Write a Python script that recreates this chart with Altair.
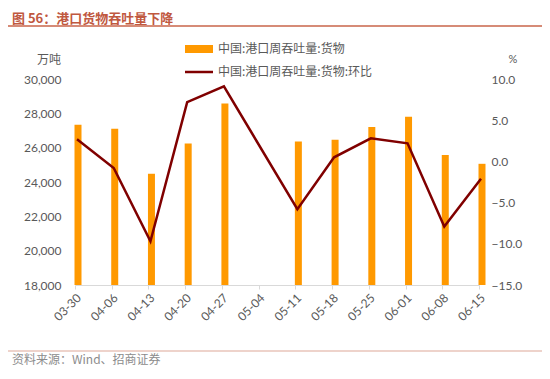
import altair as alt
import pandas as pd

dates = ["03-30", "04-06", "04-13", "04-20", "04-27", "05-04",
         "05-11", "05-18", "05-25", "06-01", "06-08", "06-15"]
throughput = [27330, 27100, 24480, 26240, 28580, None,
              26360, 26460, 27200, 27800, 25580, 25060]
mom = [2.7, -0.8, -9.7, 7.2, 9.1, None,
       -5.8, 0.5, 2.8, 2.2, -7.9, -2.1]

df = pd.DataFrame({"date": dates, "val": throughput, "mom": mom})
one = pd.DataFrame({"k": [0]})

LBL = "#595959"
FONT = "Noto Sans CJK SC"
NUMFONT = "Lato"

xenc = alt.X("date:N", sort=dates,
             scale=alt.Scale(type="point", domain=dates, padding=0),
             axis=alt.Axis(title=None, labelAngle=-45, labelColor=LBL, labelFont=NUMFONT,
                           labelFontSize=12, domainColor="#D9D9D9", tickColor="#D9D9D9",
                           tickSize=4, labelPadding=3, grid=False))

bars = alt.Chart(df).transform_filter("datum.val != null").mark_bar(
    color="#FF9900", size=7, xOffset=3).encode(
    x=xenc,
    y=alt.Y("val:Q", scale=alt.Scale(domain=[18000, 30000], zero=False, nice=False),
            axis=alt.Axis(title=None, values=list(range(18000, 30001, 2000)), format=",.0f",
                          domain=False, ticks=False, grid=False, labelColor=LBL,
                          labelFont=NUMFONT, labelFontSize=12, labelPadding=14)),
    y2=alt.datum(18000),
)

line = alt.Chart(df).transform_filter("datum.mom != null").mark_line(
    color="#800000", strokeWidth=2.5, xOffset=2).encode(
    x=xenc,
    y=alt.Y("mom:Q", scale=alt.Scale(domain=[-15, 10], nice=False, zero=False),
            axis=alt.Axis(title=None, orient="right", values=[-15, -10, -5, 0, 5, 10],
                          format=".1f", domain=False, ticks=False, grid=False,
                          labelColor=LBL, labelFont=NUMFONT, labelFontSize=12,
                          labelPadding=12)),
)

def txt(t, x, y, **kw):
    return alt.Chart(pd.DataFrame({"t": [t]})).mark_text(**kw).encode(
        text="t:N", x=alt.value(x), y=alt.value(y))

title = txt("图 56：港口货物吞吐量下降", -63, -60, align="left", baseline="middle",
            font=FONT, fontSize=13, fontWeight="bold", color="#C0583F")
unit_l = txt("万吨", -14, -19, align="right", baseline="middle", font=FONT,
             fontSize=12, color=LBL)
unit_r = txt("%", 438, -19, align="center", baseline="middle", font=NUMFONT,
             fontSize=11, color=LBL)
leg1 = txt("中国:港口周吞吐量:货物", 143, -30, align="left", baseline="middle",
           font=FONT, fontSize=12, color=LBL)
leg2 = txt("中国:港口周吞吐量:货物:环比", 143, -7, align="left", baseline="middle",
           font=FONT, fontSize=12, color=LBL)
source = txt("资料来源：Wind、招商证券", -63, 281, align="left", baseline="middle",
             font=FONT, fontSize=12, color="#8C8C8C")

leg_rect = alt.Chart(one).mark_rect(color="#FF9900").encode(
    x=alt.value(110), x2=alt.value(138), y=alt.value(-34), y2=alt.value(-26))
leg_line = alt.Chart(one).mark_rule(color="#800000", strokeWidth=2.5).encode(
    x=alt.value(110), x2=alt.value(138), y=alt.value(-7))
top_rule = alt.Chart(one).mark_rule(color="#C8654A", strokeWidth=1.5).encode(
    x=alt.value(-67), x2=alt.value(467), y=alt.value(-53))
bot_rule = alt.Chart(one).mark_rule(color="#E8C4BA", strokeWidth=1.5).encode(
    x=alt.value(-67), x2=alt.value(467), y=alt.value(272))

chart = alt.layer(
    bars, line, title, unit_l, unit_r, leg_rect, leg_line, leg1, leg2,
    top_rule, bot_rule, source
).resolve_scale(y="independent").properties(
    width=404, height=206,
    autosize=alt.AutoSizeParams(type="none"),
    padding={"left": 67, "top": 71, "right": 63, "bottom": 86},
).configure_view(stroke=None)

chart.save("out.html", embed_options={"renderer": "svg", "actions": False})
